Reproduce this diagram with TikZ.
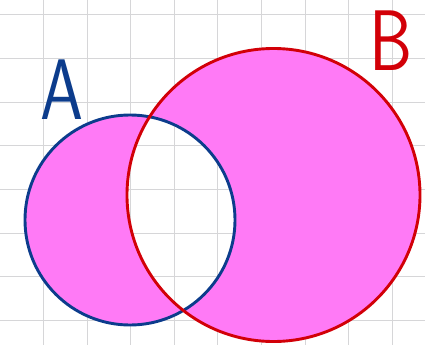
\documentclass[tikz,border=0pt]{standalone}
\usepackage{fontspec}
\definecolor{gridc}{RGB}{214,214,216}
\definecolor{pinkfill}{RGB}{255,122,246}
\definecolor{setA}{RGB}{12,60,140}
\definecolor{setB}{RGB}{210,0,8}
\tikzset{
  gridline/.style={draw=gridc, line width=1pt},
  setcircle/.style={line width=2.9pt},
  setlabel/.style={font=\fontsize{86}{86}\sffamily, inner sep=0pt, xscale=0.8}
}
\begin{document}
\begin{tikzpicture}[x=1pt,y=-1pt]
\useasboundingbox (0,0) rectangle (425,345);
\fill[white] (0,0) rectangle (425,345);
% grid
\foreach \i in {0,...,8} {
  \draw[gridline] ({43.5+43.6*\i},0) -- ({43.5+43.6*\i},345);
}
\foreach \j in {0,...,7} {
  \draw[gridline] (0,{15+43.6*\j}) -- (425,{15+43.6*\j});
}
% symmetric difference
\fill[pinkfill, even odd rule] (130,220) circle[radius=105] (273.5,195) circle[radius=146.5];
% circles
\coordinate (cA) at (130,220);
\coordinate (cB) at (273.5,195);
\draw[setA, setcircle] (cA) circle[radius=105];
\draw[setB, setcircle] (cB) circle[radius=146.5];
% labels
\node[setlabel, text=setA] (labA) at (62,90) {A};
\node[setlabel, text=setB] (labB) at (391,41) {B};
\end{tikzpicture}
\end{document}
